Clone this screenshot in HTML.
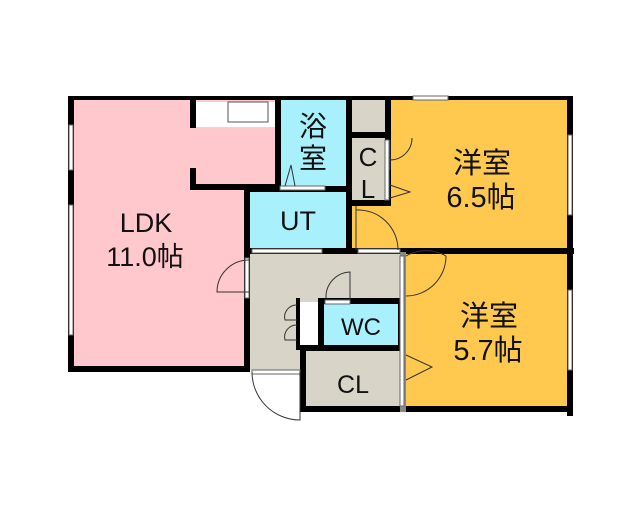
<!DOCTYPE html>
<html><head><style>
html,body{margin:0;padding:0;background:#fff;}
svg{display:block}
text{font-family:"Liberation Sans","Noto Sans CJK JP",sans-serif;fill:#111;text-anchor:middle}
</style></head><body>
<svg width="640" height="512" viewBox="0 0 640 512" xmlns="http://www.w3.org/2000/svg">
<rect x="68" y="96" width="505" height="6" fill="#000"/>
<rect x="72" y="100" width="176" height="270" fill="#ffc8cc"/>
<rect x="190" y="100" width="90" height="90" fill="#ffc8cc"/>
<rect x="195" y="102" width="80" height="25" fill="#fff"/>
<rect x="228" y="102" width="40" height="20" fill="none" stroke="#555" stroke-width="1"/>
<rect x="278" y="100" width="72" height="92" fill="#a8f0fc"/>
<rect x="250" y="190" width="100" height="62" fill="#a8f0fc"/>
<rect x="350" y="100" width="38" height="36" fill="#d8d4c8"/>
<rect x="350" y="136" width="38" height="68" fill="#d8d4c8"/>
<rect x="388" y="100" width="182" height="152" fill="#ffc84f"/>
<rect x="350" y="204" width="40" height="48" fill="#ffc84f"/>
<rect x="248" y="252" width="156" height="52" fill="#d8d4c8"/>
<rect x="248" y="300" width="56" height="70" fill="#d8d4c8"/>
<rect x="322" y="302" width="80" height="44" fill="#a8f0fc"/>
<rect x="302" y="350" width="102" height="62" fill="#d8d4c8"/>
<rect x="404" y="252" width="166" height="160" fill="#ffc84f"/>
<rect x="300" y="302" width="20" height="44" fill="#fff"/>
<g fill="#000">
<rect x="68" y="96" width="6" height="276"/>
<rect x="68" y="366" width="182" height="6"/>
<rect x="244" y="186" width="6" height="186"/>
<rect x="190" y="100" width="6" height="28"/>
<rect x="190" y="168" width="6" height="22"/>
<rect x="190" y="184" width="90" height="6"/>
<rect x="275" y="100" width="6" height="90"/>
<rect x="346" y="100" width="6" height="152"/>
<rect x="244" y="186" width="106" height="6"/>
<rect x="350" y="132" width="40" height="6"/>
<rect x="385" y="100" width="6" height="106"/>
<rect x="346" y="200" width="44" height="6"/>
<rect x="244" y="248" width="330" height="6"/>
<rect x="567" y="96" width="6" height="320"/>
<rect x="300" y="406" width="273" height="6"/>
<rect x="300" y="350" width="6" height="62"/>
<rect x="300" y="345" width="104" height="6"/>
<rect x="318" y="298" width="6" height="52"/>
<rect x="318" y="298" width="86" height="6"/>
<rect x="398" y="298" width="6" height="52"/>
<rect x="400" y="252" width="6" height="160" fill="#888"/>
<rect x="296" y="298" width="4" height="52"/>
</g>
<g fill="#fff" stroke="#666" stroke-width="1">
<rect x="413" y="96" width="35" height="4"/>
<rect x="568" y="135" width="4" height="80"/>
<rect x="568" y="290" width="4" height="80"/>
<rect x="69" y="125" width="4" height="45"/>
<rect x="69" y="205" width="4" height="130"/>
<rect x="280" y="186" width="45" height="4"/>
<rect x="252" y="249" width="70" height="4"/>
<rect x="358" y="249" width="42" height="4"/>
<rect x="385" y="140" width="4" height="60"/>
<rect x="400" y="256" width="4" height="150"/>
<rect x="245" y="258" width="4" height="40"/>
<rect x="252" y="370" width="48" height="4"/>
<rect x="325" y="300" width="25" height="4"/>
</g>
<g fill="none" stroke="#333" stroke-width="1">
<path d="M249 260 A32 32 0 0 0 217 292 L249 292"/>
<path d="M356 206 L356 250 M356 210 A40 40 0 0 1 398 250"/>
<path d="M406 256 A40 40 0 0 1 446 256 M406 296 A40 40 0 0 0 446 256"/>
<path d="M350 300 L350 272 A25 25 0 0 0 326 298"/>
<path d="M390 140 L390 170 M390 160 A22 22 0 0 0 412 138"/>
<path d="M390 185 L410 192 L390 198"/>
<path d="M406 355 L432 367 L406 380"/>
<path d="M285 186 L291 165 L295 186"/>
<path d="M252 372 A48 48 0 0 0 300 420 L300 372"/>
<path d="M297 305 A12 12 0 0 0 285 320 L297 320 M297 325 A12 12 0 0 0 285 340 L297 340"/>
</g>
<text x="146" y="232" font-size="27">LDK</text>
<text x="145" y="266" font-size="27">11.0帖</text>
<text x="313" y="136" font-size="28">浴</text>
<text x="313" y="168" font-size="28">室</text>
<text x="368" y="166" font-size="26">C</text>
<text x="368" y="198" font-size="26">L</text>
<text x="298" y="230" font-size="27">UT</text>
<text x="482" y="173" font-size="29">洋室</text>
<text x="481" y="207" font-size="29">6.5帖</text>
<text x="361" y="335" font-size="24">WC</text>
<text x="489" y="326" font-size="29">洋室</text>
<text x="488" y="360" font-size="29">5.7帖</text>
<text x="353" y="393" font-size="25">CL</text>
</svg>
</body></html>
